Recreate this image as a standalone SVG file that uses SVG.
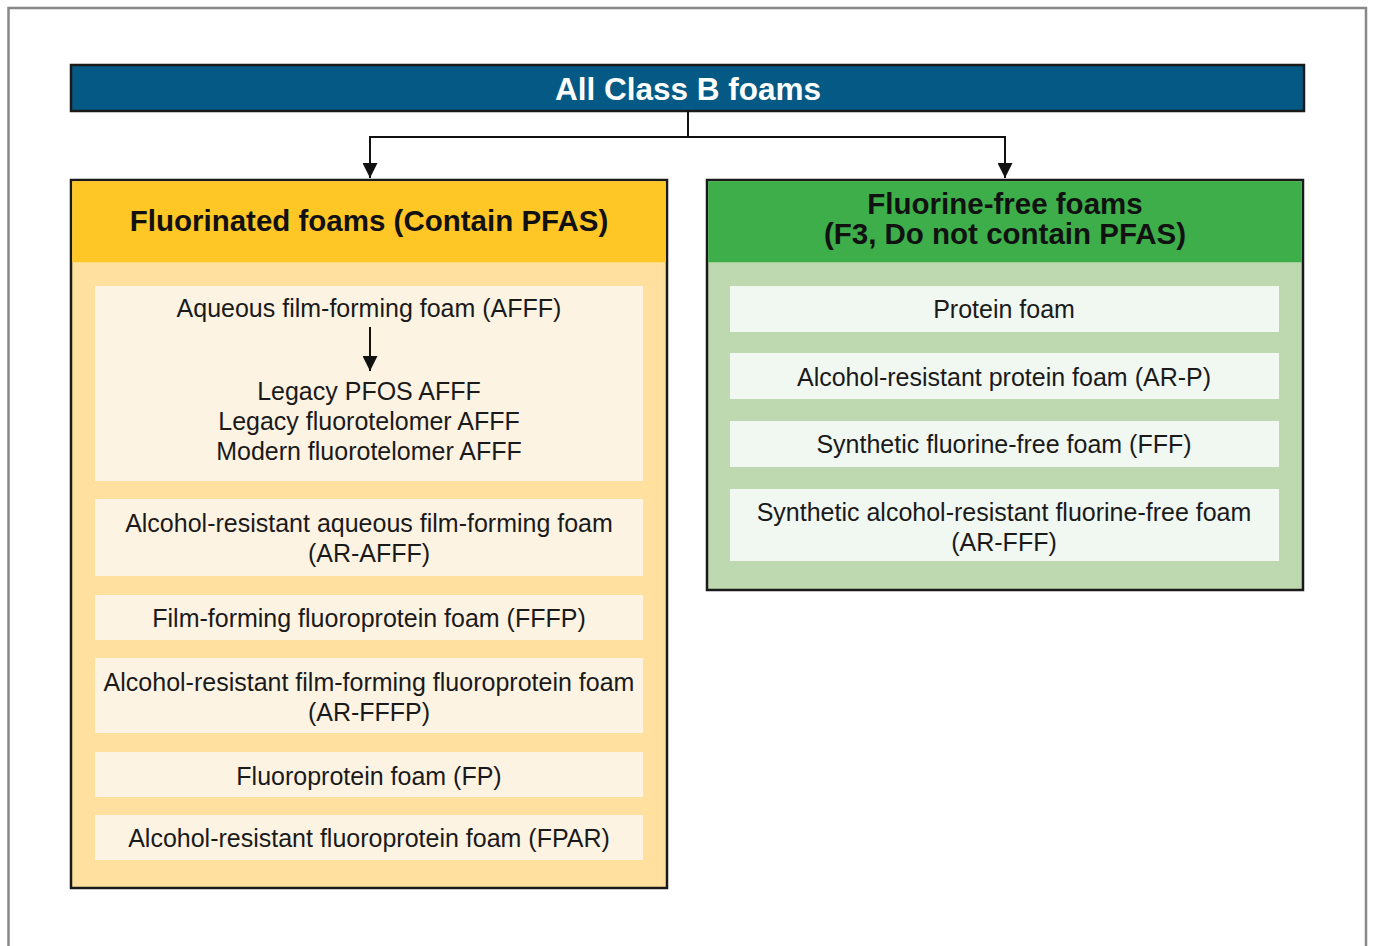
<svg xmlns="http://www.w3.org/2000/svg" width="1373" height="946" viewBox="0 0 1373 946">
<style>
.t{font-family:"Liberation Sans",Arial,sans-serif;font-size:25px;fill:#1a1a1a;text-anchor:middle}
.h{font-family:"Liberation Sans",Arial,sans-serif;font-size:29.5px;font-weight:bold;fill:#111;text-anchor:middle}
.box{stroke:#1a1a1a;stroke-width:2.5}
.inL{fill:#FDF3E3}
.inR{fill:#F1F7F1}
.c{fill:none;stroke:#111;stroke-width:2}
</style>
<defs>
<marker id="ah2" viewBox="0 0 12 12" refX="12" refY="6" markerWidth="15" markerHeight="15" orient="auto" markerUnits="userSpaceOnUse">
<path d="M0,0 L12,6 L0,12 z" fill="#111"/>
</marker>
</defs>
<rect width="1373" height="946" fill="#fff"/>
<path d="M8.5,946 V8 H1366 V946" fill="none" stroke="#888" stroke-width="2.5"/>

<g id="root">
<rect class="box" x="71" y="65" width="1233" height="46" fill="#045A84"/>
<text x="688" y="100" font-family="Liberation Sans,Arial,sans-serif" font-size="31.5" font-weight="bold" fill="#fff" text-anchor="middle">All Class B foams</text>
</g>

<g id="fluorinated">
<rect class="box" x="71" y="180" width="596" height="708" fill="#FFE09E"/>
<rect x="72.25" y="181.25" width="593.5" height="81" fill="#FFC726"/>
<text class="h" x="369" y="231">Fluorinated foams (Contain PFAS)</text>
</g>

<g id="afff">
<rect class="inL" x="95" y="286" width="548" height="195"/>
<text class="t" x="369" y="317">Aqueous film-forming foam (AFFF)</text>
<text class="t" x="369" y="400">Legacy PFOS AFFF</text>
<text class="t" x="369" y="430">Legacy fluorotelomer AFFF</text>
<text class="t" x="369" y="460">Modern fluorotelomer AFFF</text>
</g>
<g id="ar-afff">
<rect class="inL" x="95" y="499" width="548" height="77"/>
<text class="t" x="369" y="532">Alcohol-resistant aqueous film-forming foam</text>
<text class="t" x="369" y="562">(AR-AFFF)</text>
</g>
<g id="fffp">
<rect class="inL" x="95" y="595" width="548" height="45"/>
<text class="t" x="369" y="627">Film-forming fluoroprotein foam (FFFP)</text>
</g>
<g id="ar-fffp">
<rect class="inL" x="95" y="658" width="548" height="75"/>
<text class="t" x="369" y="691">Alcohol-resistant film-forming fluoroprotein foam</text>
<text class="t" x="369" y="721">(AR-FFFP)</text>
</g>
<g id="fp">
<rect class="inL" x="95" y="752" width="548" height="45"/>
<text class="t" x="369" y="785">Fluoroprotein foam (FP)</text>
</g>
<g id="fpar">
<rect class="inL" x="95" y="815" width="548" height="45"/>
<text class="t" x="369" y="847">Alcohol-resistant fluoroprotein foam (FPAR)</text>
</g>

<g id="fluorine-free">
<rect class="box" x="707" y="180" width="596" height="410" fill="#BED9AF"/>
<rect x="708.25" y="181.25" width="593.5" height="81" fill="#3DAE49"/>
<text class="h" x="1005" y="214">Fluorine-free foams</text>
<text class="h" x="1005" y="244">(F3, Do not contain PFAS)</text>
</g>
<g id="protein">
<rect class="inR" x="730" y="286" width="549" height="46"/>
<text class="t" x="1004" y="318">Protein foam</text>
</g>
<g id="ar-p">
<rect class="inR" x="730" y="353" width="549" height="46"/>
<text class="t" x="1004" y="386">Alcohol-resistant protein foam (AR-P)</text>
</g>
<g id="fff">
<rect class="inR" x="730" y="421" width="549" height="46"/>
<text class="t" x="1004" y="453">Synthetic fluorine-free foam (FFF)</text>
</g>
<g id="ar-fff">
<rect class="inR" x="730" y="489" width="549" height="72"/>
<text class="t" x="1004" y="521">Synthetic alcohol-resistant fluorine-free foam</text>
<text class="t" x="1004" y="551">(AR-FFF)</text>
</g>

<g id="connectors">
<path class="c" d="M688,111 V137 H370 V178" marker-end="url(#ah2)"/>
<path class="c" d="M688,137 H1005 V178" marker-end="url(#ah2)"/>
<path class="c" d="M370,327 V371" marker-end="url(#ah2)"/>
</g>
</svg>
